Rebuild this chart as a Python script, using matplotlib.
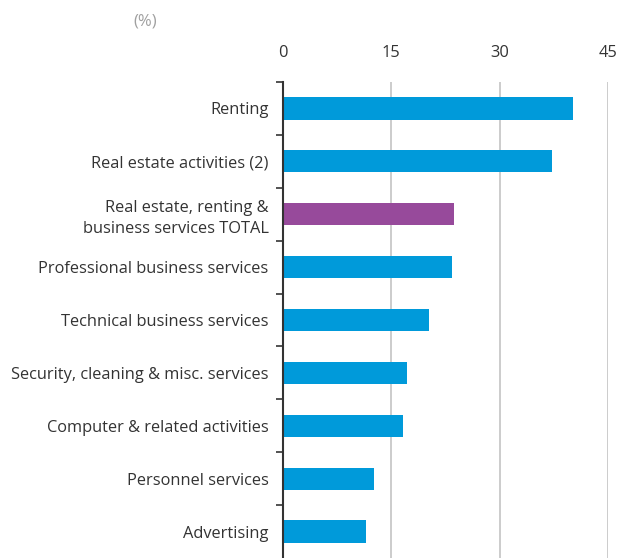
import numpy as np
import matplotlib
matplotlib.use("Agg")
import matplotlib.pyplot as plt

# data, top to bottom
categories = [
    "Renting",
    "Real estate activities (2)",
    "Real estate, renting &\nbusiness services TOTAL",
    "Professional business services",
    "Technical business services",
    "Security, cleaning & misc. services",
    "Computer & related activities",
    "Personnel services",
    "Advertising",
]
values = [40.2, 37.2, 23.7, 23.5, 20.3, 17.2, 16.6, 12.6, 11.6]
highlight = "Real estate, renting &\nbusiness services TOTAL"
xticks = [0, 15, 30, 45]

blue = "#009ADA"
purple = "#974A9B"

plt.rcParams["font.family"] = ["Open Sans", "DejaVu Sans"]

fig = plt.figure(figsize=(6.2, 5.58), dpi=100)
ax = fig.add_axes([282.5 / 620, 0.0, (608 - 282.5) / 620, 1 - 82 / 558])

y = np.arange(len(categories))
colors = [purple if c == highlight else blue for c in categories]
ax.barh(y, values, height=0.42, color=colors, zorder=3)

ax.set_ylim(len(categories) - 0.5, -0.5)
ax.set_xlim(0, 45)

ax.set_xticks(xticks)
ax.xaxis.tick_top()
ax.tick_params(axis="x", length=0, pad=15, labelsize=11.8, colors="#333333")
ax.grid(axis="x", color="#c8c8c8", linewidth=1.3, zorder=0)

ax.set_yticks(y)
ax.set_yticklabels(categories, fontsize=11.8, color="#333333", linespacing=1.4)
ax.set_yticks(np.arange(len(categories)) - 0.5, minor=True)
ax.tick_params(axis="y", which="major", length=0, pad=10)
ax.tick_params(axis="y", which="minor", length=5, width=1.3, color="#444444")

for s in ["top", "right", "bottom"]:
    ax.spines[s].set_visible(False)
ax.spines["left"].set_color("#333333")
ax.spines["left"].set_linewidth(1.5)
ax.spines["left"].set_zorder(4)

fig.text(133 / 620, 1 - 22 / 558, "(%)", fontsize=12, color="#a0a0a0",
         ha="left", va="center")

fig.savefig("out.png", dpi=100)
